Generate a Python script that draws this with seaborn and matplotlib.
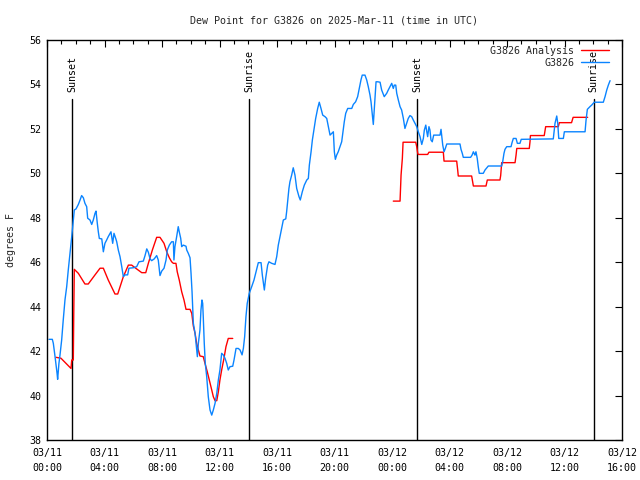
import numpy as np
import pandas as pd
import matplotlib
matplotlib.use("Agg")
import matplotlib.pyplot as plt
import matplotlib.dates as mdates
import matplotlib.ticker as mticker
import seaborn as sns

# ---------------- data ----------------
title = "Dew Point for G3826 on 2025-Mar-11 (time in UTC)"
y_label = "degrees F"
start_time = "2025-03-11 00:00"
end_time = "2025-03-12 16:00"

station_name = "G3826"
analysis_name = "G3826 Analysis"

station_hours = [
    0.14, 0.37, 0.44, 0.56, 0.70, 0.74, 0.83, 0.90, 1.02, 1.13, 1.25, 1.37, 1.48, 1.60, 1.72,
    1.83, 1.90, 2.02, 2.18, 2.30, 2.41, 2.53, 2.64, 2.76, 2.83, 2.99, 3.11, 3.22, 3.34, 3.41,
    3.50, 3.57, 3.64, 3.81, 3.92, 4.03, 4.15, 4.26, 4.45, 4.57, 4.66, 4.78, 4.85, 4.96, 5.08,
    5.20, 5.31, 5.43, 5.61, 5.70, 6.00, 6.24, 6.40, 6.70, 6.82, 6.94, 7.05, 7.17, 7.28, 7.46,
    7.63, 7.74, 7.86, 7.98, 8.14, 8.28, 8.37, 8.51, 8.67, 8.79, 8.83, 8.90, 9.02, 9.13, 9.20,
    9.30, 9.37, 9.48, 9.67, 9.72, 9.83, 9.95, 10.02, 10.09, 10.14, 10.18, 10.30, 10.37, 10.46,
    10.53, 10.64, 10.71, 10.78, 10.83, 10.87, 10.94, 11.01, 11.11, 11.22, 11.34, 11.46, 11.57,
    11.69, 11.81, 11.92, 12.03, 12.15, 12.26, 12.38, 12.50, 12.61, 12.73, 12.92, 13.01, 13.15,
    13.31, 13.43, 13.57, 13.66, 13.75, 13.84, 13.93, 14.07, 14.24, 14.40, 14.54, 14.70, 14.89,
    14.98, 15.07, 15.12, 15.21, 15.35, 15.44, 15.63, 15.86, 15.98, 16.09, 16.21, 16.33, 16.44,
    16.61, 16.67, 16.74, 16.83, 16.90, 17.02, 17.13, 17.25, 17.37, 17.53, 17.62, 17.76, 17.90,
    18.07, 18.18, 18.25, 18.37, 18.46, 18.57, 18.69, 18.83, 18.94, 19.06, 19.18, 19.34, 19.46,
    19.57, 19.69, 19.81, 19.92, 19.99, 20.06, 20.15, 20.26, 20.38, 20.50, 20.59, 20.68, 20.78,
    20.92, 21.20, 21.31, 21.47, 21.61, 21.70, 21.84, 21.93, 22.12, 22.24, 22.35, 22.47, 22.54,
    22.63, 22.70, 22.77, 22.82, 22.89, 23.01, 23.17, 23.28, 23.46, 23.63, 23.74, 23.86, 23.98,
    24.09, 24.16, 24.26, 24.33, 24.44, 24.56, 24.67, 24.79, 24.90, 25.02, 25.13, 25.25, 25.37,
    25.48, 25.60, 25.72, 25.83, 25.95, 26.07, 26.18, 26.25, 26.35, 26.42, 26.48, 26.57, 26.64,
    26.71, 26.80, 26.90, 27.34, 27.41, 27.53, 27.62, 27.71, 27.81, 28.73, 28.80, 28.89, 28.96,
    29.47, 29.57, 29.66, 29.77, 29.84, 29.93, 30.00, 30.07, 30.35, 30.47, 30.70, 31.63, 31.70,
    31.79, 31.86, 31.98, 32.28, 32.35, 32.44, 32.63, 32.72, 32.90, 32.99, 35.22, 35.34, 35.46,
    35.53, 35.57, 35.60, 35.92, 35.99, 37.43, 37.50, 37.59, 37.77, 37.89, 38.07, 38.70, 38.82,
    38.94, 39.05, 39.17,
]
station_dewpt = [
    42.53, 42.53, 42.35, 41.75, 41.00, 40.73, 41.45, 41.80, 42.50, 43.40, 44.30, 44.90, 45.65, 46.40, 47.15,
    47.90, 48.35, 48.40, 48.60, 48.80, 49.00, 48.90, 48.65, 48.50, 47.98, 47.90, 47.70, 47.90, 48.20, 48.30,
    47.75, 47.37, 47.07, 47.05, 46.47, 46.85, 47.00, 47.15, 47.37, 46.85, 47.30, 47.07, 46.92, 46.55, 46.25,
    45.80, 45.35, 45.43, 45.43, 45.73, 45.75, 45.80, 46.02, 46.05, 46.30, 46.60, 46.45, 46.15, 46.07, 46.15,
    46.30, 46.10, 45.40, 45.60, 45.73, 46.10, 46.55, 46.77, 46.92, 46.92, 46.10, 46.70, 47.15, 47.60, 47.37,
    47.08, 46.70, 46.77, 46.72, 46.55, 46.40, 46.20, 45.50, 44.67, 43.85, 43.25, 42.80, 42.35, 41.75,
    42.35, 42.95, 43.85, 44.30, 44.15, 43.55, 42.35, 41.45, 40.85, 39.95, 39.35, 39.12, 39.35,
    39.65, 40.10, 40.70, 41.15, 41.90, 41.83, 41.68, 41.45, 41.15, 41.30, 41.32, 41.60, 42.12,
    42.12, 42.05, 41.83, 42.12, 42.65, 43.55, 44.15, 44.60, 44.90, 45.20, 45.57, 45.98, 45.98,
    45.42, 44.97, 44.75, 45.27, 45.87, 46.02, 45.95, 45.90, 46.25, 46.77, 47.15, 47.53, 47.90,
    47.95, 48.27, 48.72, 49.32, 49.62, 49.92, 50.25, 49.92, 49.32, 48.95, 48.80, 49.17, 49.47,
    49.70, 49.77, 50.37, 50.97, 51.50, 51.95, 52.47, 52.92, 53.20, 52.92, 52.62, 52.55, 52.47,
    52.10, 51.72, 51.80, 51.87, 50.97, 50.63, 50.82, 50.97, 51.20, 51.42, 51.87, 52.32, 52.70,
    52.92, 52.92, 53.10, 53.22, 53.45, 53.75, 54.20, 54.42, 54.42, 54.20, 53.90, 53.52, 53.22,
    52.62, 52.20, 52.92, 53.37, 54.12, 54.12, 54.10, 53.75, 53.45, 53.60, 53.75, 53.90, 54.05,
    53.82, 53.97, 53.97, 53.60, 53.30, 53.00, 52.85, 52.47, 52.02, 52.25, 52.47, 52.60, 52.55,
    52.40, 52.25, 52.10, 51.87, 51.65, 51.30, 51.57, 51.95, 52.17, 51.87, 51.65, 52.10, 51.95,
    51.50, 51.42, 51.72, 51.72, 51.98, 51.27, 50.97, 51.12, 51.32, 51.32, 51.08, 50.90, 50.72,
    50.72, 50.82, 50.97, 50.82, 50.97, 50.67, 50.30, 50.00, 50.00, 50.15, 50.33, 50.33, 50.52,
    50.90, 51.08, 51.20, 51.20, 51.38, 51.57, 51.57, 51.35, 51.35, 51.53, 51.55, 52.25, 52.58,
    52.25, 51.90, 51.57, 51.57, 51.87, 51.87, 52.40, 52.88, 53.00, 53.07, 53.20, 53.20, 53.45,
    53.75, 53.97, 54.17,
]

analysis_hours = [
    0.63, 0.97, 1.67, 1.72, 1.83, 1.86, 1.90, 2.18, 2.64, 2.87, 3.34, 3.69, 3.92, 4.26, 4.73,
    4.92, 5.31, 5.66, 5.89, 6.17, 6.59, 6.87, 7.05, 7.33, 7.63, 7.86, 8.14, 8.33, 8.51, 8.67,
    8.79, 8.97, 9.06, 9.20, 9.37, 9.53, 9.67, 9.95, 10.07, 10.18, 10.30, 10.41, 10.53, 10.64,
    10.87, 10.99, 11.15, 11.29, 11.46, 11.57, 11.69, 11.81, 11.92, 12.03, 12.15, 12.31, 12.45,
    12.61, 12.92,
    24.09, 24.56, 24.63, 24.72, 24.77, 25.65, 25.72, 25.79, 25.83, 26.48, 26.57, 27.57, 27.62,
    28.50, 28.57, 28.61, 29.54, 29.61, 29.66, 30.54, 30.63, 31.51, 31.56, 31.63, 32.56, 32.63,
    32.68, 33.55, 33.60, 33.63, 34.59, 34.69, 35.57, 35.64, 36.49, 36.60, 37.61,
]
analysis_dewpt = [
    41.72, 41.68, 41.22, 41.60, 41.60, 43.62, 45.68, 45.50, 45.02, 45.02, 45.43, 45.73, 45.73, 45.20, 44.57,
    44.57, 45.35, 45.87, 45.87, 45.73, 45.53, 45.53, 45.95, 46.55, 47.12, 47.12, 46.85, 46.47, 46.20, 46.02,
    45.95, 45.95, 45.57, 45.20, 44.67, 44.30, 43.88, 43.88, 43.70, 43.13, 42.80, 42.35, 42.05, 41.78,
    41.75, 41.45, 41.07, 40.70, 40.25, 39.95, 39.77, 39.77, 40.17, 40.70, 41.15, 41.67, 42.20,
    42.57, 42.57,
    48.75, 48.75, 49.92, 50.67, 51.40, 51.40, 51.20, 50.90, 50.85, 50.85, 50.95, 50.95, 50.55,
    50.55, 50.15, 49.88, 49.88, 49.62, 49.43, 49.43, 49.70, 49.70, 49.90, 50.48, 50.48, 50.82,
    51.12, 51.12, 51.42, 51.70, 51.70, 52.10, 52.10, 52.28, 52.28, 52.52, 52.52,
]
analysis_segment = [0] * 59 + [1] * 37   # the analysis has a data gap

event_hours = [1.75, 14.07, 25.77, 38.02]
event_labels = ["Sunset", "Sunrise", "Sunset", "Sunrise"]

y_ticks = [38, 40, 42, 44, 46, 48, 50, 52, 54, 56]

# ---------------- build table ----------------
t0 = pd.Timestamp(start_time)
df_station = pd.DataFrame({
    "time": t0 + pd.to_timedelta(station_hours, unit="h"),
    "dewpt": station_dewpt,
    "series": station_name,
    "segment": 0,
})
df_analysis = pd.DataFrame({
    "time": t0 + pd.to_timedelta(analysis_hours, unit="h"),
    "dewpt": analysis_dewpt,
    "series": analysis_name,
    "segment": analysis_segment,
})
df = pd.concat([df_analysis, df_station], ignore_index=True)

# ---------------- style ----------------
sns.set_theme(style="white")
FONT = ["DejaVu Sans Mono", "DejaVu Sans"]
plt.rcParams["font.family"] = FONT
plt.rcParams["font.size"] = 7.2

fig = plt.figure(figsize=(6.4, 4.8), dpi=100)
ax = fig.add_axes([47 / 640, 40 / 480, 575 / 640, 400 / 480])

sns.lineplot(
    data=df, x="time", y="dewpt", hue="series", units="segment",
    estimator=None, sort=False, ax=ax,
    hue_order=[analysis_name, station_name],
    palette={analysis_name: "#ff0000", station_name: "#0a84ff"},
    linewidth=1.0, legend=True,
)

# sunrise / sunset markers
ymin, ymax = y_ticks[0], y_ticks[-1]
for h, lab in zip(event_hours, event_labels):
    t = t0 + pd.Timedelta(hours=h)
    ax.axvline(t, ymin=0, ymax=0.852, color="black", linewidth=1.0, zorder=1)
    ax.text(t, ymin + 0.87 * (ymax - ymin), lab, rotation=90, ha="center",
            va="bottom", fontsize=7.2, color="black", family=FONT)

# axes limits and ticks
ax.set_xlim(t0, pd.Timestamp(end_time))
ax.set_ylim(ymin, ymax)
ax.set_yticks(y_ticks)
ax.yaxis.set_minor_locator(mticker.NullLocator())
ax.xaxis.set_major_locator(mdates.HourLocator(byhour=range(0, 24, 4)))
ax.xaxis.set_minor_locator(mdates.HourLocator())
ax.xaxis.set_major_formatter(mdates.DateFormatter("%m/%d\n%H:%M"))
ax.tick_params(axis="both", which="both", direction="in", top=True, right=True,
               colors="black", labelsize=7.2)
ax.tick_params(axis="both", which="major", length=5, width=0.8, pad=4)
ax.tick_params(axis="x", which="major", pad=6)
ax.tick_params(axis="x", which="minor", length=3, width=0.8)
fig.canvas.draw()
for lbl in ax.get_xticklabels():
    lbl.set_linespacing(1.6)
for s in ax.spines.values():
    s.set_color("black")
    s.set_linewidth(1.0)

ax.set_xlabel("")
ax.set_ylabel(y_label, fontsize=7.2, labelpad=10)
ax.set_title(title, fontsize=7.2, pad=12)

handles, labels = ax.get_legend_handles_labels()
ax.legend(handles, labels, loc="upper right", bbox_to_anchor=(0.981, 0.99),
          frameon=False, markerfirst=False, handlelength=2.8, handletextpad=0.7,
          labelspacing=0.2, borderaxespad=0.0, borderpad=0.2, fontsize=7.2)

fig.savefig("out.png", dpi=100)
